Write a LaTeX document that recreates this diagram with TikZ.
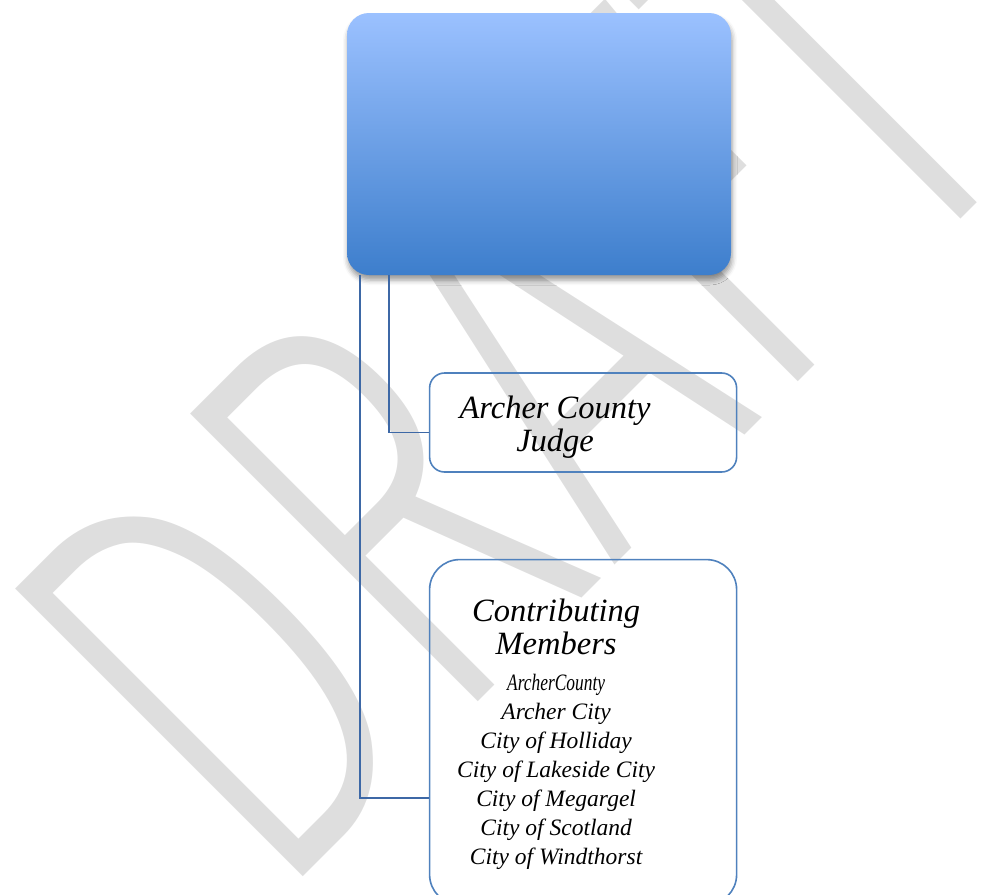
\documentclass[tikz,border=0pt]{standalone}
\usepackage{fontspec}
\setmainfont{Liberation Serif}
\newfontfamily\wmfont{Fira Sans Light}
\usepackage{graphicx}
\usetikzlibrary{positioning,calc,shadows.blur}

\definecolor{wmgray}{RGB}{222,222,222}
\definecolor{boxline}{RGB}{79,129,189}
\definecolor{linkline}{RGB}{61,104,166}
\definecolor{toptop}{RGB}{155,193,255}
\definecolor{topbot}{RGB}{61,126,204}

\begin{document}
\begin{tikzpicture}[
  x=1pt, y=1pt,
  conn/.style={draw=linkline, line width=1.8pt},
  box/.style={draw=boxline, line width=1.6pt, inner sep=0pt, minimum width=307pt},
  rootbox/.style={rounded corners=22pt, top color=toptop, bottom color=topbot, draw=none,
    minimum width=384pt, minimum height=262pt,
    blur shadow={shadow xshift=1pt, shadow yshift=-5pt, shadow blur radius=5pt, shadow opacity=40}},
  ttl/.style={font=\fontsize{32.5}{33}\selectfont\itshape, align=center, inner sep=0pt},
  lst/.style={font=\fontsize{23.5}{29}\selectfont\itshape, align=center, inner sep=0pt},
  wmark/.style={anchor=base west, rotate=45, xscale=0.66, inner sep=0pt, text=wmgray,
    font=\fontsize{594}{594}\selectfont\wmfont}
]
  \useasboundingbox (0,0) rectangle (981,-894);
  \clip (0,0) rectangle (981,-894);

  % watermark behind everything
  \node[wmark] (draft) at (272,-908) {DRAFT};

  \node[rootbox] (root) at (539,-144) {};

  \node[box, rounded corners=15pt, minimum height=99pt,
       below=97pt of root.south west, anchor=north west, xshift=82pt] (judge) {};
  \node[box, rounded corners=30pt, minimum height=345pt,
       below=86pt of judge.south west, anchor=north west] (members) {};

  \node[ttl] (judgetxt) at ($(judge.center)+(-28,-5)$) {Archer County\\Judge};
  \node[ttl, below=40pt of members.north, xshift=-27pt] (memtitle) {Contributing\\Members};
  \node[lst, below=19pt of memtitle] (memlist)
    {\scalebox{0.74}[1]{ArcherCounty}\\Archer City\\City of Holliday\\City of Lakeside City\\
     City of Megargel\\City of Scotland\\City of Windthorst};

  % connectors from the top box
  \draw[conn] ([xshift=42pt]root.south west) |- ([yshift=-10pt]judge.west);
  \draw[conn] ([xshift=13pt]root.south west) |- ([yshift=-66pt]members.west);
\end{tikzpicture}
\end{document}
